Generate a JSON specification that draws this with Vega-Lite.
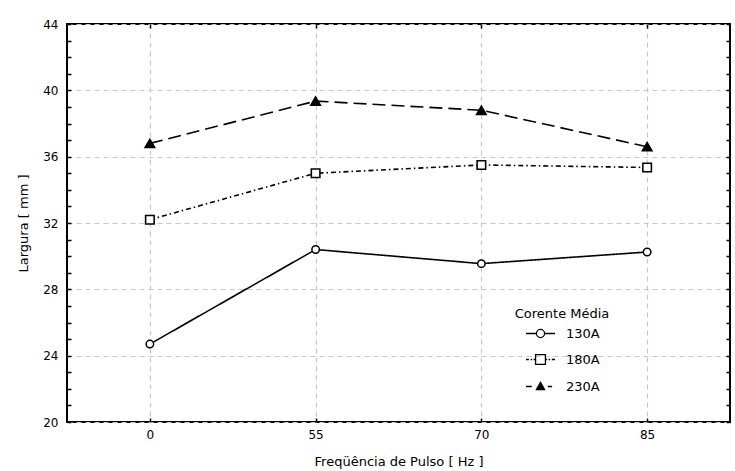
{
  "$schema": "https://vega.github.io/schema/vega-lite/v6.json",
  "width": 663,
  "height": 398,
  "autosize": "none",
  "padding": {"left": 67, "top": 24, "right": 5, "bottom": 49},
  "background": "white",
  "data": {
    "values": [
      {"serie": "130A", "freq": 0, "largura": 24.7},
      {"serie": "130A", "freq": 55, "largura": 30.4},
      {"serie": "130A", "freq": 70, "largura": 29.55},
      {"serie": "130A", "freq": 85, "largura": 30.25},
      {"serie": "180A", "freq": 0, "largura": 32.2},
      {"serie": "180A", "freq": 55, "largura": 35.0},
      {"serie": "180A", "freq": 70, "largura": 35.5},
      {"serie": "180A", "freq": 85, "largura": 35.35},
      {"serie": "230A", "freq": 0, "largura": 36.8},
      {"serie": "230A", "freq": 55, "largura": 39.35},
      {"serie": "230A", "freq": 70, "largura": 38.8},
      {"serie": "230A", "freq": 85, "largura": 36.6}
    ]
  },
  "config": {
    "view": {"stroke": "black", "strokeWidth": 2},
    "font": "DejaVu Sans",
    "axis": {
      "labelFont": "DejaVu Sans",
      "titleFont": "DejaVu Sans",
      "labelColor": "black",
      "titleColor": "black",
      "titleFontWeight": "normal",
      "labelFontSize": 12,
      "titleFontSize": 13
    }
  },
  "layer": [
    {
      "mark": {"type": "line", "color": "black", "strokeWidth": 1.6},
      "encoding": {
        "x": {
          "field": "freq",
          "type": "ordinal",
          "scale": {"paddingOuter": 0.5},
          "axis": {
            "orient": "bottom",
            "title": "Freqüência de Pulso [ Hz ]",
            "labelAngle": 0,
            "domain": false,
            "grid": true,
            "gridColor": "#c8c8c8",
            "gridDash": [5, 4],
            "gridWidth": 1.2,
            "tickSize": -4,
            "tickColor": "black",
            "tickWidth": 1.5,
            "labelPadding": 11,
            "titlePadding": 15
          }
        },
        "y": {
          "field": "largura",
          "type": "quantitative",
          "scale": {"domain": [20, 44], "nice": false, "zero": false},
          "axis": {
            "orient": "left",
            "title": "Largura [ mm ]",
            "values": [20, 21, 22, 23, 24, 25, 26, 27, 28, 29, 30, 31, 32, 33, 34, 35, 36, 37, 38, 39, 40, 41, 42, 43, 44],
            "labelExpr": "datum.value % 4 === 0 ? datum.label : ''",
            "domain": false,
            "grid": true,
            "gridColor": "#c8c8c8",
            "gridDash": [5, 4],
            "gridWidth": 1.2,
            "gridOpacity": {"condition": {"test": "datum.value % 4 !== 0", "value": 0}, "value": 1},
            "tickSize": -4,
            "tickColor": "black",
            "tickWidth": 1.5,
            "labelPadding": 13,
            "titlePadding": 12
          }
        },
        "strokeDash": {
          "field": "serie",
          "type": "nominal",
          "scale": {"domain": ["130A", "180A", "230A"], "range": [[1, 0], [5, 3, 1.5, 3], [13, 6]]},
          "legend": null
        }
      }
    },
    {
      "mark": {"type": "point", "filled": true, "stroke": "black", "opacity": 1},
      "encoding": {
        "x": {
          "field": "freq",
          "type": "ordinal",
          "axis": {"orient": "top", "title": null, "labels": false, "domain": false, "grid": false, "tickSize": -4, "tickColor": "black", "tickWidth": 1.5}
        },
        "y": {
          "field": "largura",
          "type": "quantitative",
          "axis": {
            "orient": "right",
            "title": null,
            "labels": false,
            "domain": false,
            "grid": false,
            "values": [20, 21, 22, 23, 24, 25, 26, 27, 28, 29, 30, 31, 32, 33, 34, 35, 36, 37, 38, 39, 40, 41, 42, 43, 44],
            "tickSize": -4,
            "tickColor": "black",
            "tickWidth": 1.5
          }
        },
        "shape": {
          "field": "serie",
          "type": "nominal",
          "scale": {"domain": ["130A", "180A", "230A"], "range": ["circle", "square", "triangle-up"]},
          "legend": null
        },
        "size": {
          "field": "serie",
          "type": "ordinal",
          "scale": {"domain": ["130A", "180A", "230A"], "range": [56, 90, 60]},
          "legend": null
        },
        "strokeWidth": {
          "field": "serie",
          "type": "ordinal",
          "scale": {"domain": ["130A", "180A", "230A"], "range": [1.5, 1.6, 2.2]},
          "legend": null
        },
        "fill": {
          "field": "serie",
          "type": "nominal",
          "scale": {"domain": ["130A", "180A", "230A"], "range": ["white", "white", "black"]},
          "legend": null
        }
      }
    },
    {
      "mark": {"type": "point", "opacity": 0},
      "encoding": {
        "shape": {
          "field": "serie",
          "type": "nominal",
          "scale": {
            "domain": ["130A", "180A", "230A"],
            "range": [
              "M-1,0H-0.28M0.28,0H1M-0.28,0A0.28,0.28 0 1,0 0.28,0A0.28,0.28 0 1,0 -0.28,0Z",
              "M-1,0H-0.8M-0.68,0H-0.58M-0.48,0H-0.34M0.34,0H0.46M0.56,0H0.66M0.78,0H1M-0.34,-0.34H0.34V0.34H-0.34Z",
              "M-1,0H-0.6M0.5,0H0.8M-0.28,0.22L0,-0.28L0.28,0.22ZM-0.17,0.15L0,-0.15L0.17,0.15ZM-0.07,0.1L0,-0.03L0.07,0.1Z"
            ]
          },
          "legend": {
            "title": "Corente Média",
            "orient": "none",
            "legendX": 448,
            "legendY": 284,
            "titleFont": "DejaVu Sans",
            "titleFontSize": 13,
            "titleFontWeight": "normal",
            "titleColor": "black",
            "titleAnchor": "middle",
            "titlePadding": -3,
            "labelFont": "DejaVu Sans",
            "labelFontSize": 13,
            "labelColor": "black",
            "labelOffset": 10,
            "symbolSize": 841,
            "symbolStrokeColor": "black",
            "symbolFillColor": "white",
            "symbolStrokeWidth": 1.3,
            "symbolOpacity": 1,
            "rowPadding": 3,
            "encode": {
              "symbols": {
                "opacity": {"value": 1},
                "fill": {"value": "white"},
                "stroke": {"value": "black"},
                "strokeWidth": {"value": 1.3}
              }
            }
          }
        }
      }
    }
  ],
  "resolve": {
    "scale": {"shape": "independent"},
    "axis": {"x": "independent", "y": "independent"}
  }
}
